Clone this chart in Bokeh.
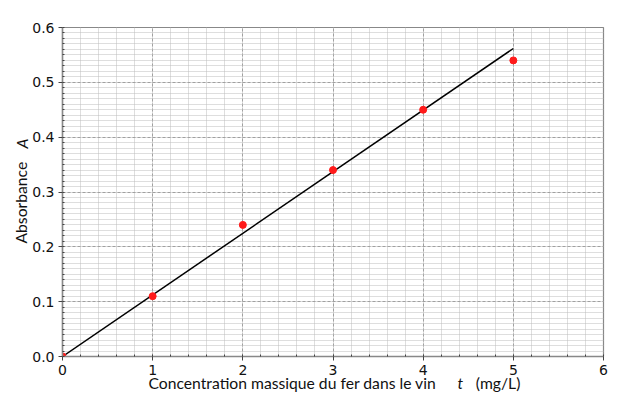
import numpy as np
from bokeh.plotting import figure
from bokeh.models import Label, FixedTicker
from bokeh.embed import file_html
from bokeh.resources import INLINE

# data
conc = [0, 1, 2, 3, 4, 5]
absorb = [0.0, 0.11, 0.24, 0.34, 0.45, 0.54]
fit_x = [0, 5]
fit_y = [0.0, 0.5617]
x_ticks = [0, 1, 2, 3, 4, 5, 6]
y_ticks = [0.0, 0.1, 0.2, 0.3, 0.4, 0.5, 0.6]
x_minor = [round(i * 0.2, 2) for i in range(31)]
y_minor = [round(i * 0.01, 2) for i in range(61)]
x_label_main = "Concentration massique du fer dans le vin"
x_label_var = "t"
x_label_unit = "(mg/L)"
y_label_main = "Absorbance"
y_label_var = "A"

p = figure(width=614, height=394, x_range=(0, 6), y_range=(0, 0.6),
           output_backend="svg", toolbar_location=None,
           min_border_left=62, min_border_right=11, min_border_top=27, min_border_bottom=38)
p.background_fill_color = "white"
p.border_fill_color = "white"
p.outline_line_color = "#888888"
p.outline_line_width = 1.2

p.xaxis.ticker = FixedTicker(ticks=x_ticks, minor_ticks=x_minor)
p.yaxis.ticker = FixedTicker(ticks=y_ticks, minor_ticks=y_minor)
p.xaxis.major_label_overrides = {v: str(v) for v in x_ticks}
p.yaxis.major_label_overrides = {v: f"{v:.1f}" for v in y_ticks}

for ax in (p.xaxis[0], p.yaxis[0]):
    ax.axis_line_color = "#888888"
    ax.axis_line_width = 1.5
    ax.major_tick_line_color = "#444444"
    ax.minor_tick_line_color = "#444444"
    ax.major_tick_in = 0
    ax.major_tick_out = 4
    ax.minor_tick_in = 2
    ax.minor_tick_out = 0
    ax.major_label_text_font = "DejaVu Sans"
    ax.major_label_text_font_size = "14px"
    ax.major_label_text_color = "#111111"
    ax.major_label_standoff = 4

p.xgrid.grid_line_color = "#a0a0a0"
p.xgrid.grid_line_dash = "3 2"
p.ygrid.grid_line_color = "#a0a0a0"
p.ygrid.grid_line_dash = "3 2"
p.xgrid.minor_grid_line_color = "#bdbdbd"
p.xgrid.minor_grid_line_dash = "1 1"
p.ygrid.minor_grid_line_color = "#bdbdbd"
p.ygrid.minor_grid_line_dash = "1 1"

p.line(fit_x, fit_y, line_color="black", line_width=1.5)
p.scatter(conc, absorb, size=7, fill_color="#ff1a1a", line_color="#ff1a1a")

font = "Lato"
common = dict(x_units="screen", y_units="screen", text_font=font, text_font_size="15.7px",
              text_baseline="middle", text_align="left", text_color="#111111")
gap = "\u00a0" * 10
# main x label lives in the top panel, shifted down below the x axis
p.add_layout(Label(x=86, y=-355, text=x_label_main + gap + x_label_unit, **common), "above")
# italic t in the right panel, shifted to its place
p.add_layout(Label(x=-146, y=-26, text=x_label_var, text_font_style="italic", **common), "right")
p.add_layout(Label(x=9, y=113, text=y_label_main, angle=np.pi / 2, **common), "left")
p.add_layout(Label(x=-41, y=239, text=y_label_var, angle=np.pi / 2, text_font_style="italic", **common), "below")

open("out.html", "w").write(file_html(p, INLINE))
